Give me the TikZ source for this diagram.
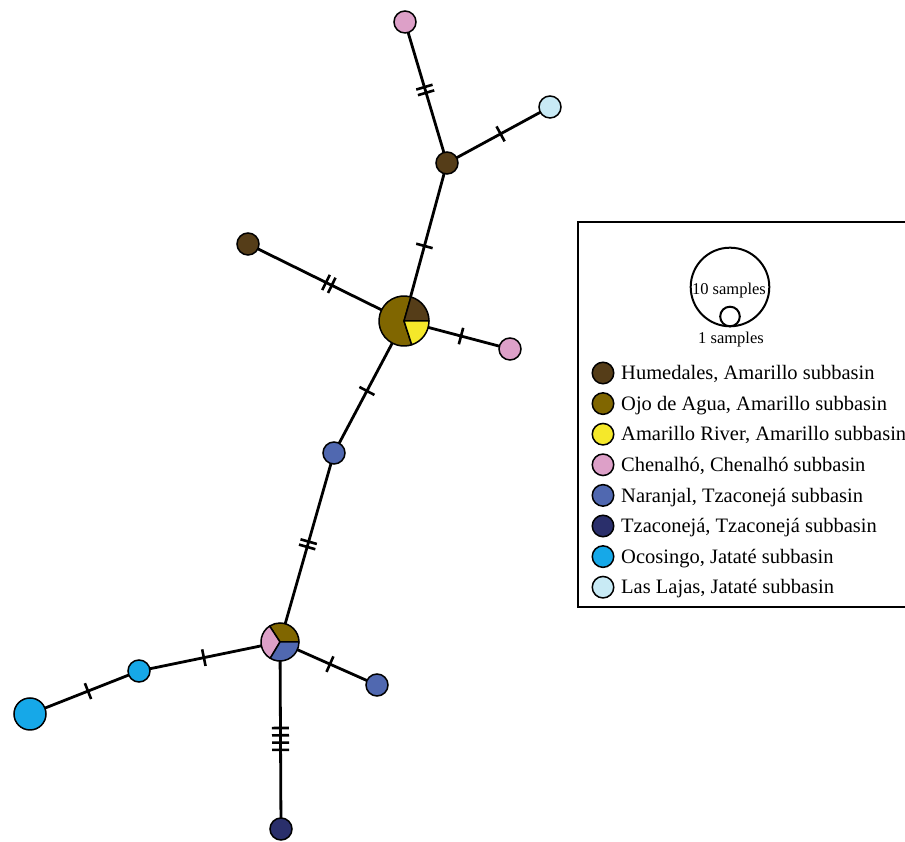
\documentclass[tikz,border=0pt]{standalone}
\usepackage{fontspec}
\setmainfont{Liberation Serif}
\usetikzlibrary{backgrounds}
\definecolor{hum}{RGB}{85,61,24}
\definecolor{ojo}{RGB}{128,102,0}
\definecolor{ama}{RGB}{245,232,42}
\definecolor{che}{RGB}{221,160,200}
\definecolor{nar}{RGB}{80,104,176}
\definecolor{tza}{RGB}{42,47,107}
\definecolor{oco}{RGB}{22,168,232}
\definecolor{laj}{RGB}{200,234,245}
\begin{document}
\begin{tikzpicture}[x=1pt,y=1pt,
  hap/.style={circle,draw,line width=1.5pt,minimum size=22pt,inner sep=0pt},
  pienode/.style={circle,minimum size=#1,inner sep=0pt},
  link/.style={line width=2.8pt},
  tk/.style={sloped,rectangle,fill=black,minimum width=2.6pt,minimum height=17pt,inner sep=0pt},
  slice/.style={draw,line width=1.5pt,line join=round},
  leg/.style={circle,draw,line width=1.5pt,minimum size=21.5pt,inner sep=0pt},
  legtext/.style={anchor=base west,font=\fontsize{20.5}{24}\selectfont,inner sep=0pt},
  smptext/.style={anchor=base,font=\fontsize{16.5}{18}\selectfont,inner sep=0pt},
]
\useasboundingbox (0,0) rectangle (905,842);

% haplotype nodes
\node[hap,fill=che] (A) at (405,820) {};
\node[hap,fill=laj] (B) at (550,735) {};
\node[hap,fill=hum] (C) at (447,679) {};
\node[hap,fill=hum] (D) at (248,598) {};
\node[pienode=52pt] (E) at (404,521) {};
\node[hap,fill=che] (F) at (510,493) {};
\node[hap,fill=nar] (G) at (334,389) {};
\node[pienode=40pt] (H) at (280,200) {};
\node[hap,fill=nar] (I) at (377,157) {};
\node[hap,fill=oco] (J) at (139,171) {};
\node[hap,fill=oco,minimum size=32pt] (K) at (30,128) {};
\node[hap,fill=tza] (L) at (281,13) {};

% pie E
\path[slice,fill=ojo] (E.center) -- ++(74:25) arc[start angle=74,end angle=288,radius=25] -- cycle;
\path[slice,fill=hum] (E.center) -- ++(0:25) arc[start angle=0,end angle=74,radius=25] -- cycle;
\path[slice,fill=ama] (E.center) -- ++(-72:25) arc[start angle=-72,end angle=0,radius=25] -- cycle;
% pie H
\path[slice,fill=ojo] (H.center) -- ++(0:19) arc[start angle=0,end angle=123,radius=19] -- cycle;
\path[slice,fill=che] (H.center) -- ++(123:19) arc[start angle=123,end angle=239,radius=19] -- cycle;
\path[slice,fill=nar] (H.center) -- ++(239:19) arc[start angle=239,end angle=360,radius=19] -- cycle;

% connectors with mutation ticks
\begin{scope}[on background layer]
\draw[link] (A.center) -- (C.center) node[tk,pos=0.462]{} node[tk,pos=0.502]{};
\draw[link] (C.center) -- (B.center) node[tk,pos=0.52]{};
\draw[link] (C.center) -- (E.center) node[tk,pos=0.525]{};
\draw[link] (D.center) -- (E.center) node[tk,pos=0.50]{} node[tk,pos=0.537]{};
\draw[link] (E.center) -- (F.center) node[tk,pos=0.538]{};
\draw[link] (E.center) -- (G.center) node[tk,pos=0.53]{};
\draw[link] (G.center) -- (H.center) node[tk,pos=0.469]{} node[tk,pos=0.497]{};
\draw[link] (H.center) -- (J.center) node[tk,pos=0.54]{};
\draw[link] (J.center) -- (K.center) node[tk,pos=0.468]{};
\draw[link] (H.center) -- (I.center) node[tk,pos=0.515]{};
\draw[link] (H.center) -- (L.center) node[tk,pos=0.46]{} node[tk,pos=0.499]{} node[tk,pos=0.538]{} node[tk,pos=0.577]{};
\end{scope}

% legend
\draw[line width=1.4pt] (578,620) rectangle (925,235);
\node[circle,draw,line width=2pt,minimum size=78.6pt,inner sep=0pt] (big) at (730,555) {};
\node[circle,draw,line width=2pt,minimum size=19.6pt,inner sep=0pt,fill=white] (small) at (730,525.5) {};
\node[smptext] (t10) at (729,547) {10 samples};
\node[smptext] (t1) at (731,498) {1 samples};

\node[leg,fill=hum] (l1) at (603,469) {};
\node[leg,fill=ojo] (l2) at (603,438.4) {};
\node[leg,fill=ama] (l3) at (603,407.8) {};
\node[leg,fill=che] (l4) at (603,377.2) {};
\node[leg,fill=nar] (l5) at (603,346.6) {};
\node[leg,fill=tza] (l6) at (603,316) {};
\node[leg,fill=oco] (l7) at (603,285.4) {};
\node[leg,fill=laj] (l8) at (603,254.8) {};
\node[legtext] (x1) at (621,462.2) {Humedales, Amarillo subbasin};
\node[legtext] (x2) at (621,431.6) {Ojo de Agua, Amarillo subbasin};
\node[legtext] (x3) at (621,401.0) {Amarillo River, Amarillo subbasin};
\node[legtext] (x4) at (621,370.4) {Chenalhó, Chenalhó subbasin};
\node[legtext] (x5) at (621,339.8) {Naranjal, Tzaconejá subbasin};
\node[legtext] (x6) at (621,309.2) {Tzaconejá, Tzaconejá subbasin};
\node[legtext] (x7) at (621,278.6) {Ocosingo, Jataté subbasin};
\node[legtext] (x8) at (621,248.0) {Las Lajas, Jataté subbasin};
\end{tikzpicture}
\end{document}
